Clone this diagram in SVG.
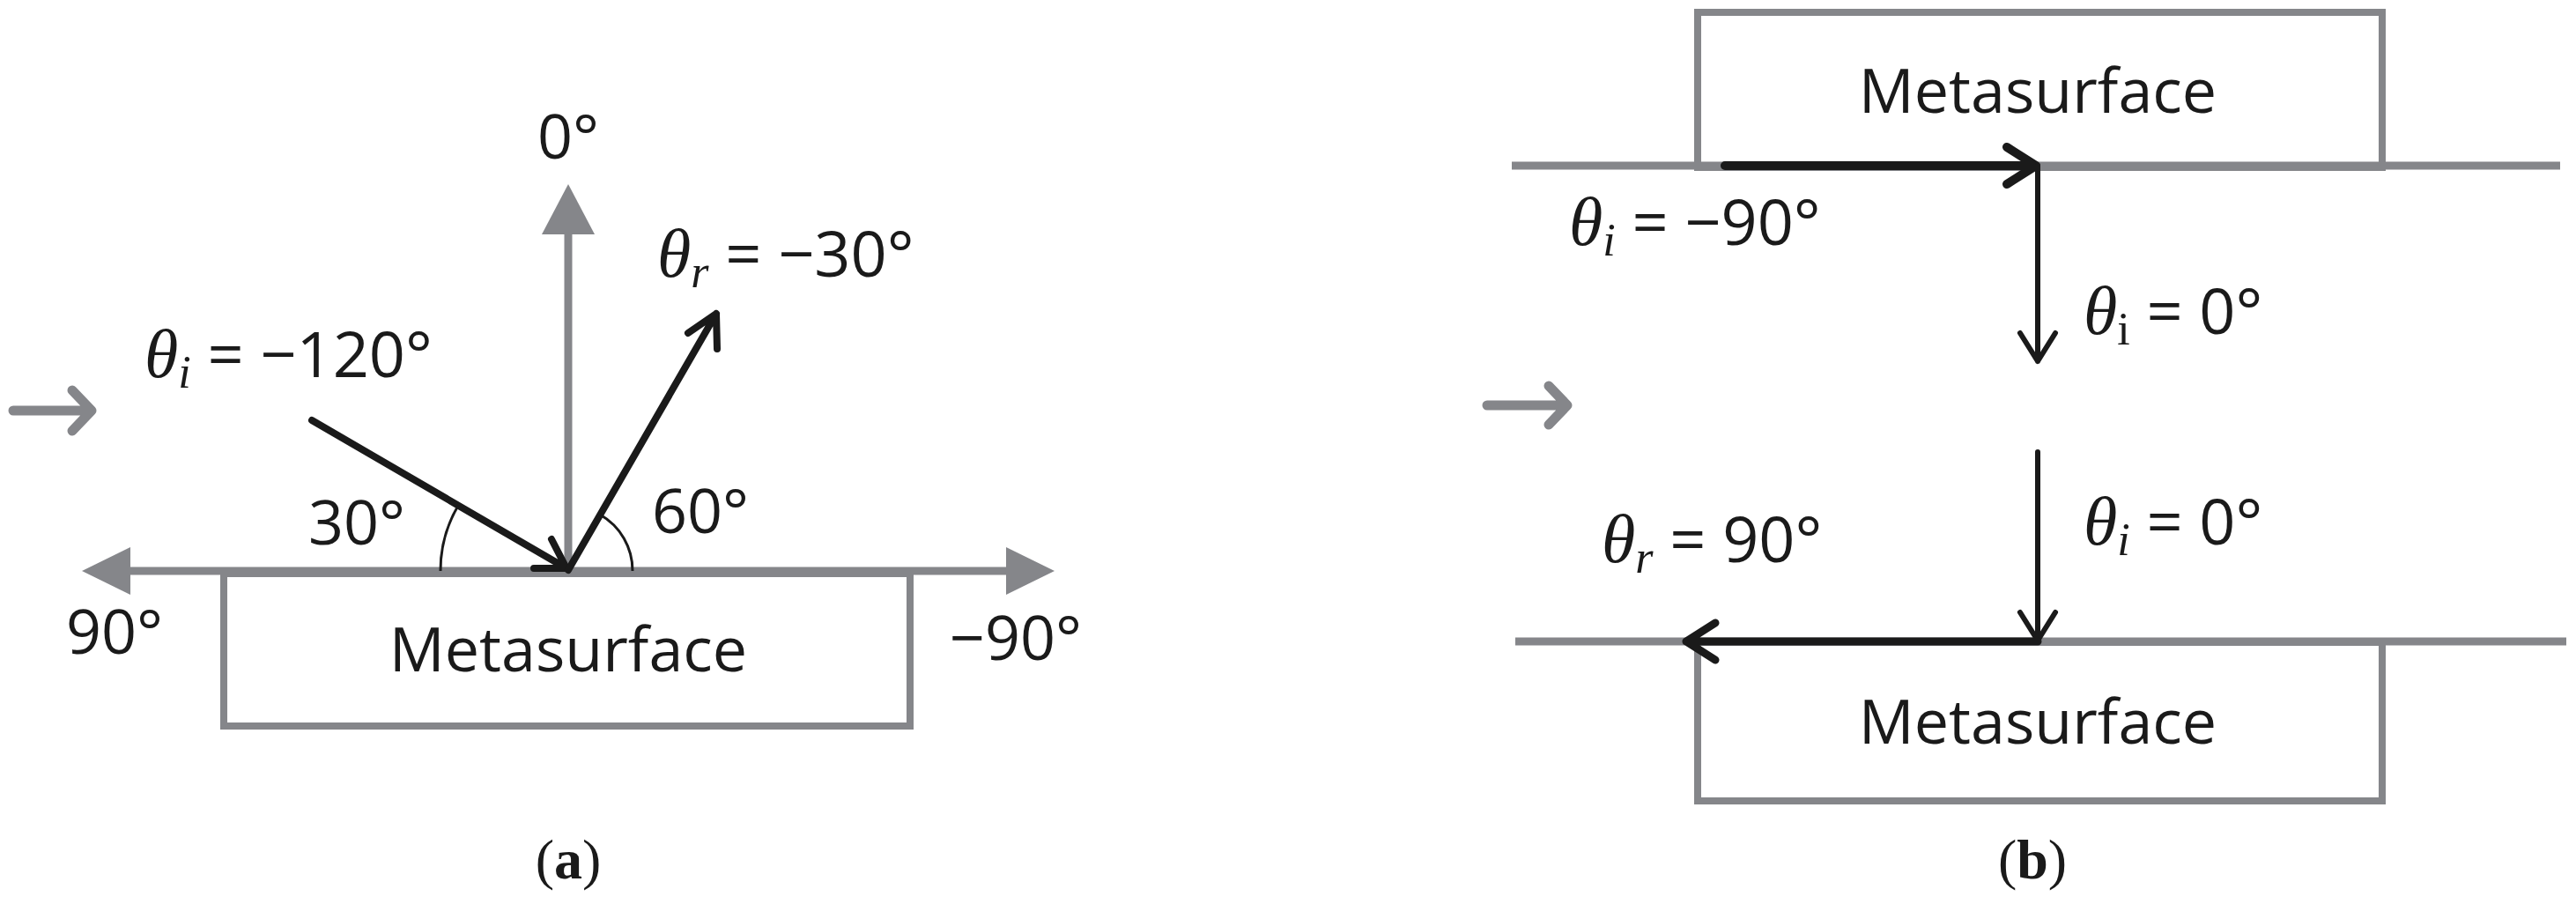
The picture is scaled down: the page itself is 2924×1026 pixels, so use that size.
<svg xmlns="http://www.w3.org/2000/svg" width="2924" height="1026" viewBox="0 0 2924 1026">
<style>
.t{font-family:"Open Sans","Liberation Sans",sans-serif;font-size:70px;fill:#1a1a1a}
.m{font-family:"Open Sans","Liberation Sans",sans-serif;font-size:72px;fill:#1a1a1a}
.th{font-family:"Liberation Serif","DejaVu Serif",serif;font-style:italic;font-size:78px}
.sub{font-family:"Liberation Serif","DejaVu Serif",serif;font-style:italic;font-size:52px}
.g{stroke:#85868a;stroke-width:9;fill:none}
.box{stroke:#85868a;stroke-width:8;fill:#fff}
.k{stroke:#1a1a1a;stroke-width:8;fill:none;stroke-linecap:round;stroke-linejoin:round}
.cap{font-family:"Liberation Serif",serif;font-size:64px;fill:#1a1a1a}
.sa{stroke:#85868a;stroke-width:11;fill:none;stroke-linecap:round;stroke-linejoin:round}
</style>
<rect width="2924" height="1026" fill="#fff"/>
<g id="panel-a">
<g id="box-a"><rect class="box" x="254" y="651" width="779" height="173"/><text class="t" x="645" y="762" text-anchor="middle">Metasurface</text></g>
<g id="axes-a">
<line class="g" x1="140" y1="648" x2="1150" y2="648"/>
<polygon points="93,648 148,621 148,675" fill="#85868a"/>
<polygon points="1197,648 1142,621 1142,675" fill="#85868a"/>
<line class="g" x1="645" y1="648" x2="645" y2="255"/>
<polygon points="645,209 615,266 675,266" fill="#85868a"/>
<path class="sa" d="M15,466 H100 M82,443 L104,466 L82,489"/>
</g>
<g id="connectors-a">
<path class="k" d="M354,477 L643,645 M606,645 L643,645 L626,612"/>
<path class="k" d="M645,647 L813,356 M781,378 L813,356 L814,396"/>
<path d="M500,648 A145,145 0 0 1 520,574" stroke="#1a1a1a" stroke-width="3" fill="none"/>
<path d="M718,648 A73,73 0 0 0 681,584" stroke="#1a1a1a" stroke-width="3" fill="none"/>
</g>
<g id="labels-a">
<text class="t" x="645" y="180" text-anchor="middle">0°</text>
<text class="m" x="746" y="314"><tspan class="th">θ</tspan><tspan class="sub" dy="12">r</tspan><tspan dy="-12"> = −30°</tspan></text>
<text class="m" x="164" y="428"><tspan class="th">θ</tspan><tspan class="sub" dy="12">i</tspan><tspan dy="-12"> = −120°</tspan></text>
<text class="t" x="350" y="618">30°</text>
<text class="t" x="740" y="605">60°</text>
<text class="t" x="75" y="742">90°</text>
<text class="t" x="1078" y="749">−90°</text>
<text class="cap" x="645" y="997" text-anchor="middle">(<tspan font-weight="bold">a</tspan>)</text>
</g>
</g>
<g id="panel-b">
<g id="box-b-top"><rect class="box" x="1927" y="14" width="777" height="176"/><text class="t" x="2313" y="128" text-anchor="middle">Metasurface</text></g>
<g id="box-b-bottom"><rect class="box" x="1927" y="729" width="777" height="180"/><text class="t" x="2313" y="844" text-anchor="middle">Metasurface</text></g>
<g id="surfaces-b">
<line class="g" x1="1716" y1="188" x2="2906" y2="188"/>
<line class="g" x1="1720" y1="728" x2="2913" y2="728"/>
<path class="sa" d="M1688,460 H1775 M1758,438 L1779,460 L1758,482"/>
</g>
<g id="connectors-b">
<path class="k" d="M1958,188 H2311 M2278,167 L2311,188 L2278,209" stroke-linecap="butt" style="stroke-width:10"/>
<path class="k" d="M2313,188 V410 M2293,378 L2313,410 L2333,378" style="stroke-width:6"/>
<path class="k" d="M2313,513 V727 M2293,695 L2313,727 L2333,695" style="stroke-width:6"/>
<path class="k" d="M2313,728 H1914 M1947,707 L1914,728 L1947,749" style="stroke-width:9"/>
</g>
<g id="labels-b">
<text class="m" x="1781" y="278"><tspan class="th">θ</tspan><tspan class="sub" dy="12">i</tspan><tspan dy="-12"> = −90°</tspan></text>
<text class="m" x="2365" y="379"><tspan class="th">θ</tspan><tspan font-family="Liberation Serif" font-size="52" dy="12">i</tspan><tspan dy="-12"> = 0°</tspan></text>
<text class="m" x="2365" y="618"><tspan class="th">θ</tspan><tspan class="sub" dy="12">i</tspan><tspan dy="-12"> = 0°</tspan></text>
<text class="m" x="1818" y="638"><tspan class="th">θ</tspan><tspan class="sub" dy="12">r</tspan><tspan dy="-12"> = 90°</tspan></text>
<text class="cap" x="2307" y="997" text-anchor="middle">(<tspan font-weight="bold">b</tspan>)</text>
</g>
</g>
</svg>
